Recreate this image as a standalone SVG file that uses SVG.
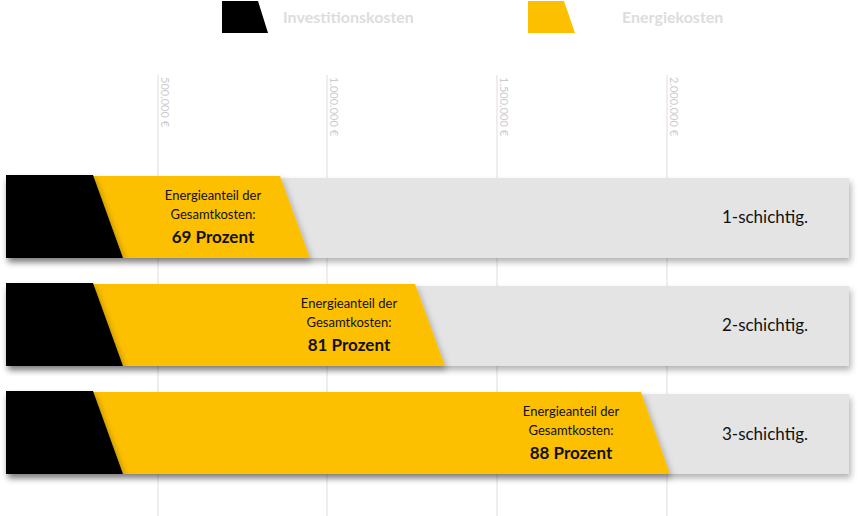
<svg xmlns="http://www.w3.org/2000/svg" width="860" height="516" viewBox="0 0 860 516">
<defs>
<filter id="sh" x="-5%" y="-20%" width="110%" height="150%"><feDropShadow dx="2" dy="4" stdDeviation="3" flood-color="#000" flood-opacity="0.3"/></filter>
<style>
.grid{stroke:#ddd;stroke-width:1}
.ax{font-family:Lato,"Open Sans",sans-serif;font-size:11px;fill:#ccc}
.leg{font-family:Lato,sans-serif;font-size:16px;font-weight:bold;fill:#ddd}
.bg{fill:#e4e4e4}
.inv{fill:#000}
.en{fill:#fdc000}
.t{font-family:Lato,sans-serif;font-size:13px;fill:#111;text-anchor:middle}
.b{font-family:Lato,sans-serif;font-size:17px;font-weight:bold;fill:#111;text-anchor:middle}
.r{font-family:Lato,sans-serif;font-size:17px;fill:#111;text-anchor:end}
</style>
</defs>
<g id="legend">
<polygon class="inv" points="222,1 258,1 268,33 222,33"/>
<text class="leg" x="283" y="23">Investitionskosten</text>
<polygon class="en" points="528,1 564,1 575,33 528,33"/>
<text class="leg" x="622" y="23">Energiekosten</text>
</g>
<g id="axis">
<line class="grid" x1="158" y1="75" x2="158" y2="516"/>
<line class="grid" x1="327" y1="75" x2="327" y2="516"/>
<line class="grid" x1="497" y1="75" x2="497" y2="516"/>
<line class="grid" x1="667" y1="75" x2="667" y2="516"/>
<text class="ax" transform="translate(161,77) rotate(90)">500.000 €</text>
<text class="ax" transform="translate(330,77) rotate(90)">1.000.000 €</text>
<text class="ax" transform="translate(500,77) rotate(90)">1.500.000 €</text>
<text class="ax" transform="translate(670,77) rotate(90)">2.000.000 €</text>
</g>
<g id="row1">
<rect class="bg" x="6" y="178" width="843" height="80" filter="url(#sh)"/>
<polygon class="en" points="93,176 280,176 310,258 123,258" filter="url(#sh)"/>
<polygon class="inv" points="6,175 93,175 123,258 6,258" filter="url(#sh)"/>
<text class="t" x="213" y="200">Energieanteil der</text>
<text class="t" x="213" y="219">Gesamtkosten:</text>
<text class="b" x="213" y="243">69 Prozent</text>
<text class="r" x="808" y="223">1-schichtig.</text>
</g>
<g id="row2">
<rect class="bg" x="6" y="286" width="843" height="80" filter="url(#sh)"/>
<polygon class="en" points="93,284 415,284 445,366 123,366" filter="url(#sh)"/>
<polygon class="inv" points="6,283 93,283 123,366 6,366" filter="url(#sh)"/>
<text class="t" x="349" y="308">Energieanteil der</text>
<text class="t" x="349" y="327">Gesamtkosten:</text>
<text class="b" x="349" y="351">81 Prozent</text>
<text class="r" x="808" y="331">2-schichtig.</text>
</g>
<g id="row3">
<rect class="bg" x="6" y="394" width="843" height="80" filter="url(#sh)"/>
<polygon class="en" points="93,392 641,392 670,474 123,474" filter="url(#sh)"/>
<polygon class="inv" points="6,391 93,391 123,474 6,474" filter="url(#sh)"/>
<text class="t" x="571" y="416">Energieanteil der</text>
<text class="t" x="571" y="435">Gesamtkosten:</text>
<text class="b" x="571" y="459">88 Prozent</text>
<text class="r" x="808" y="440">3-schichtig.</text>
</g>
<g id="connectors"/>
</svg>
